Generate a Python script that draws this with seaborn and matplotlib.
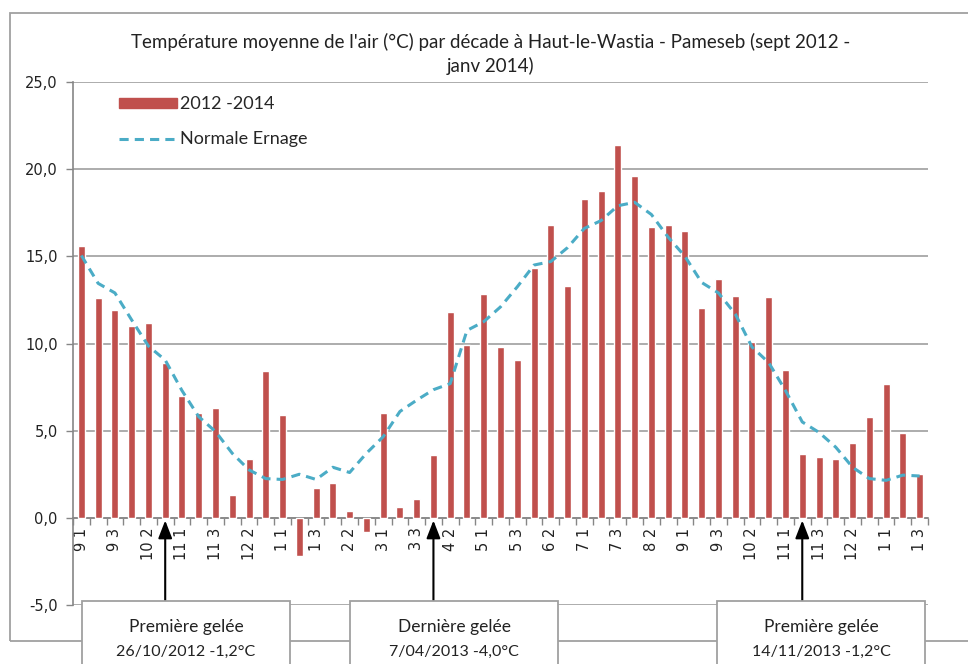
import numpy as np
import pandas as pd
import matplotlib
matplotlib.use('Agg')
import matplotlib.pyplot as plt
import seaborn as sns
from matplotlib.patches import Rectangle
from matplotlib.lines import Line2D

# decade labels: month + decade number (sept 2012 -> janv 2014)
decades = ['9 1', '9 2', '9 3', '10 1', '10 2', '10 3', '11 1', '11 2', '11 3',
           '12 1', '12 2', '12 3', '1 1', '1 2', '1 3', '2 1', '2 2', '2 3',
           '3 1', '3 2', '3 3', '4 1', '4 2', '4 3', '5 1', '5 2', '5 3',
           '6 1', '6 2', '6 3', '7 1', '7 2', '7 3', '8 1', '8 2', '8 3',
           '9 1', '9 2', '9 3', '10 1', '10 2', '10 3', '11 1', '11 2', '11 3',
           '12 1', '12 2', '12 3', '1 1', '1 2', '1 3']

temp_2012_2014 = [15.6, 12.6, 11.9, 11.0, 11.2, 8.9, 7.0, 6.0, 6.3,
                  1.3, 3.4, 8.4, 5.9, -2.2, 1.7, 2.0, 0.4, -0.8,
                  6.0, 0.6, 1.1, 3.6, 11.8, 9.9, 12.85, 9.8, 9.05,
                  14.35, 16.8, 13.3, 18.3, 18.75, 21.4, 19.6, 16.7, 16.8,
                  16.45, 12.05, 13.7, 12.75, 10.1, 12.65, 8.5, 3.65, 3.5,
                  3.4, 4.3, 5.8, 7.65, 4.85, 2.5]

normale_ernage = [15.05, 13.45, 12.9, 11.35, 9.85, 9.05, 7.3, 5.8, 4.95,
                  3.7, 2.75, 2.25, 2.2, 2.5, 2.2, 2.9, 2.6, 3.7,
                  4.65, 6.1, 6.75, 7.35, 7.7, 10.75, 11.25, 12.1, 13.25,
                  14.5, 14.7, 15.5, 16.6, 17.05, 17.9, 18.1, 17.4, 16.1,
                  15.0, 13.5, 12.9, 11.7, 9.8, 8.9, 7.3, 5.5, 4.9,
                  4.05, 2.9, 2.25, 2.15, 2.45, 2.4]

frost_idx = [5, 21, 43]
frost_title = ['Première gelée', 'Dernière gelée', 'Première gelée']
frost_detail = ['26/10/2012 -1,2°C', '7/04/2013 -4,0°C', '14/11/2013 -1,2°C']

title_lines = ["Température moyenne de l'air (°C) par décade à Haut-le-Wastia - Pameseb (sept 2012 -",
               "janv 2014)"]

BAR_COLOR = '#C0504D'
LINE_COLOR = '#4BACC6'
GRID = '#a6a6a6'
AXIS = '#868686'
TXT = '#222222'

sns.set_style('white')
plt.rcParams['font.family'] = ['Lato', 'DejaVu Sans']

W, H = 968, 664
fig = plt.figure(figsize=(W / 100, H / 100), dpi=100)
ax = fig.add_axes([73 / W, 1 - 605 / H, (928 - 73) / W, (605 - 82) / H])

df = pd.DataFrame({'pos': np.arange(len(decades)),
                   'temp': temp_2012_2014,
                   'normale': normale_ernage})

sns.barplot(data=df, x='pos', y='temp', color=BAR_COLOR, saturation=1,
            width=0.42, ax=ax, zorder=3)
sns.lineplot(data=df, x='pos', y='normale', color=LINE_COLOR, lw=2.2,
             ax=ax, zorder=4)
ax.lines[-1].set_dashes([3, 2])

ax.set_xlim(-0.5, len(decades) - 0.5)
ax.set_ylim(-5, 25)
ax.set_xlabel('')
ax.set_ylabel('')

# y axis
yt = np.arange(-5, 26, 5)
ax.set_yticks(yt)
ax.set_yticklabels([f'{v:.1f}'.replace('.', ',') for v in yt],
                   fontfamily='DejaVu Sans', fontsize=10.5, color=TXT)
ax.tick_params(axis='y', left=True, direction='out', length=5, width=1,
               color=AXIS, pad=6)
ax.yaxis.grid(True, color=GRID, lw=1.3)
ax.xaxis.grid(False)
ax.set_axisbelow(True)

# x axis at zero
for s in ['top', 'right']:
    ax.spines[s].set_visible(False)
ax.spines['left'].set_color(AXIS)
ax.spines['left'].set_linewidth(1.2)
ax.spines['bottom'].set_position(('data', 0))
ax.spines['bottom'].set_color(AXIS)
ax.spines['bottom'].set_linewidth(1.2)
ax.set_xticks(df['pos'][::2])
ax.set_xticklabels(decades[::2], rotation=90, fontfamily='DejaVu Sans',
                   fontsize=10.5, color=TXT)
ax.set_xticks(np.arange(-0.5, len(decades), 1), minor=True)
ax.tick_params(axis='x', which='major', bottom=True, length=0, pad=7)
ax.tick_params(axis='x', which='minor', bottom=True, direction='out',
               length=5, width=1, color=AXIS)

# legend
handles = [Rectangle((0, 0), 1, 1, color=BAR_COLOR),
           Line2D([0], [0], color=LINE_COLOR, lw=2.2, dashes=[3, 2])]
ax.legend(handles, ['2012 -2014', 'Normale Ernage'], loc='upper left',
          bbox_to_anchor=(0.037, 1.0), frameon=False, fontsize=13,
          handlelength=3.2, handleheight=0.5, labelspacing=1.05,
          handletextpad=0.2, borderaxespad=0.4)

# title
fig.text(491 / W, 1 - 42 / H, title_lines[0], ha='center', va='center',
         fontsize=13.5, color=TXT)
fig.text(491 / W, 1 - 66 / H, title_lines[1], ha='center', va='center',
         fontsize=13.5, color=TXT)

# chart area border
fig.patches.append(Rectangle((10 / W, 1 - 641 / H), 1.0, (641 - 13) / H,
                             transform=fig.transFigure, fill=False,
                             ec='#a0a0a0', lw=1.3, zorder=0))

# frost annotations
box_left = [82, 350, 717]
box_w = 208
box_top = 601
y_box = -5 + (605 - box_top) / ((605 - 82) / 30)
for left, idx, t1, t2 in zip(box_left, frost_idx, frost_title, frost_detail):
    fig.patches.append(Rectangle((left / W, -0.05), box_w / W,
                                 (H - box_top) / H + 0.05,
                                 transform=fig.transFigure, fc='white',
                                 ec='#a0a0a0', lw=1.3, zorder=5))
    cx = (left + box_w / 2) / W
    fig.text(cx, 1 - 627 / H, t1, ha='center', va='center', fontsize=12.5,
             color=TXT, zorder=6)
    fig.text(cx, 1 - 652 / H, t2, ha='center', va='center', fontsize=11.5,
             color=TXT, zorder=6)
    ax.annotate('', xy=(idx, -0.15), xytext=(idx, y_box),
                arrowprops=dict(arrowstyle='-|>,head_length=0.9,head_width=0.35',
                                color='black', lw=1.5, mutation_scale=12,
                                shrinkA=0, shrinkB=0),
                annotation_clip=False, zorder=6)

fig.savefig('out.png', dpi=100, facecolor='white')
